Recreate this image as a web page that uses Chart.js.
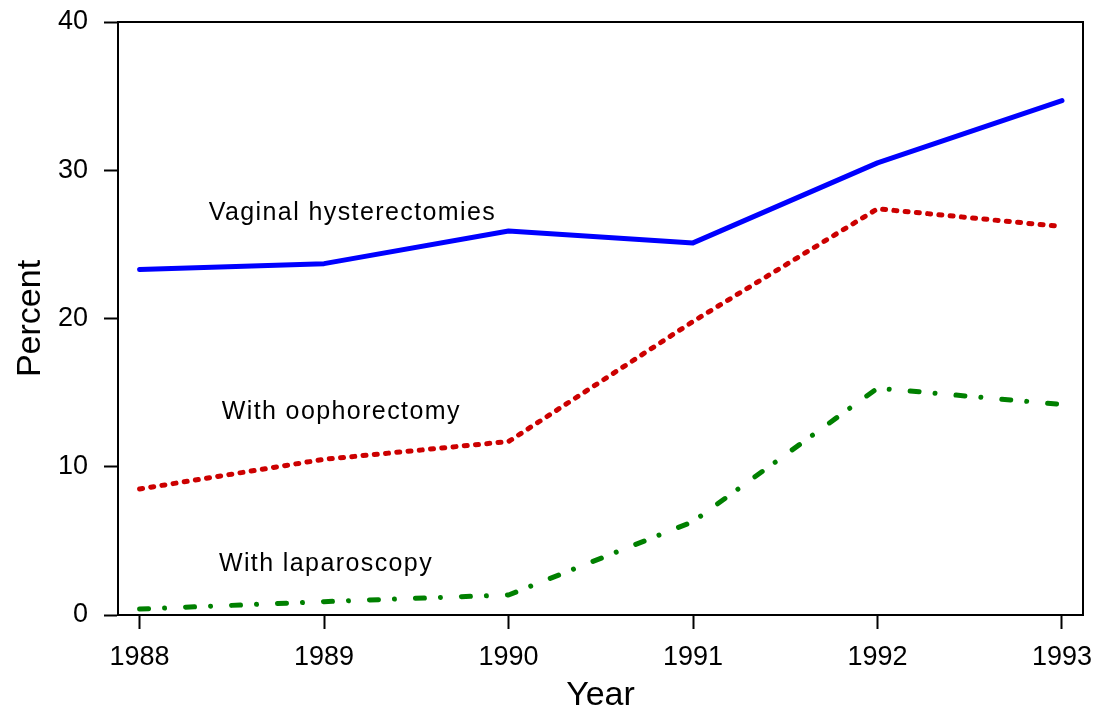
<!DOCTYPE html>
<html>
<head>
<meta charset="utf-8">
<script src="https://cdn.jsdelivr.net/npm/chart.js@4/dist/chart.umd.min.js"></script>
<style>
html,body{margin:0;padding:0;background:#fff;}
#wrap{width:1093px;height:711px;position:relative;}
</style>
</head>
<body>
<div id="wrap"><canvas id="c" width="1093" height="711"></canvas></div>
<script>
const years = [1988, 1989, 1990, 1991, 1992, 1993];
const vaginal = [23.3, 23.7, 25.9, 25.1, 30.5, 34.7];
const oophorectomy = [8.5, 10.5, 11.7, 19.8, 27.4, 26.2];
const laparoscopy = [0.4, 0.9, 1.35, 6.3, 15.3, 14.2];
const yTicks = [0, 10, 20, 30, 40];
const labels = [
  {text: 'Vaginal hysterectomies', x: 1988.375, y: 27.1},
  {text: 'With oophorectomy', x: 1988.445, y: 13.7},
  {text: 'With laparoscopy', x: 1988.43, y: 3.45}
];

const pts = arr => years.map((y, i) => ({x: y, y: arr[i]}));
const FONT = "'Liberation Sans', Arial, Helvetica, sans-serif";

const boxPlugin = {
  id: 'box',
  afterDatasetsDraw(chart) {
    const {ctx, chartArea: a, scales} = chart;
    ctx.save();
    ctx.strokeStyle = '#000';
    ctx.lineWidth = 2;
    ctx.beginPath();
    ctx.moveTo(a.left, a.top);
    ctx.lineTo(a.right, a.top);
    ctx.lineTo(a.right, a.bottom);
    ctx.stroke();
    ctx.fillStyle = '#000';
    ctx.font = '25px ' + FONT;
    ctx.letterSpacing = '1.4px';
    ctx.textBaseline = 'middle';
    ctx.textAlign = 'left';
    labels.forEach(l => {
      ctx.fillText(l.text, scales.x.getPixelForValue(l.x), scales.y.getPixelForValue(l.y));
    });
    ctx.restore();
  }
};

new Chart(document.getElementById('c'), {
  type: 'line',
  data: {
    datasets: [
      {data: pts(vaginal), borderColor: '#0000ff', borderWidth: 5, pointRadius: 0, tension: 0, borderCapStyle: 'round', borderJoinStyle: 'round'},
      {data: pts(oophorectomy), borderColor: '#cc0000', borderWidth: 5, pointRadius: 0, tension: 0, borderDash: [3, 8.3], borderCapStyle: 'round', borderJoinStyle: 'round'},
      {data: pts(laparoscopy), borderColor: '#008000', borderWidth: 5, pointRadius: 0, tension: 0, borderDash: [9, 16, 0.01, 21], borderCapStyle: 'round', borderJoinStyle: 'round'}
    ]
  },
  options: {
    responsive: false,
    animation: false,
    devicePixelRatio: 1,
    layout: {padding: {left: 0, right: 10, top: 22, bottom: 0}},
    plugins: {legend: {display: false}, tooltip: {enabled: false}},
    scales: {
      x: {
        type: 'linear',
        min: 1987.883,
        max: 1993.114,
        afterBuildTicks: s => { s.ticks = years.map(v => ({value: v})); },
        afterFit: s => { s.height = 96; s.paddingLeft = 0; s.paddingRight = 0; },
        ticks: {color: '#000', font: {family: FONT, size: 27}, padding: 12, maxRotation: 0, callback: v => String(v)},
        grid: {drawOnChartArea: false, drawTicks: true, tickLength: 14, color: '#000', tickWidth: 2},
        border: {display: true, color: '#000', width: 2},
        title: {display: true, text: 'Year', color: '#000', font: {family: FONT, size: 34}, padding: {top: 0, bottom: -5}}
      },
      y: {
        min: 0,
        max: 40,
        afterBuildTicks: s => { s.ticks = yTicks.map(v => ({value: v})); },
        afterFit: s => { s.width = 118; s.paddingTop = 0; s.paddingBottom = 0; },
        ticks: {color: '#000', font: {family: FONT, size: 27}, padding: 16},
        grid: {drawOnChartArea: false, drawTicks: true, tickLength: 14, color: '#000', tickWidth: 2},
        border: {display: true, color: '#000', width: 2},
        title: {display: true, text: 'Percent', color: '#000', font: {family: FONT, size: 34}, padding: {top: 10, bottom: 0}}
      }
    }
  },
  plugins: [boxPlugin]
});
</script>
</body>
</html>
